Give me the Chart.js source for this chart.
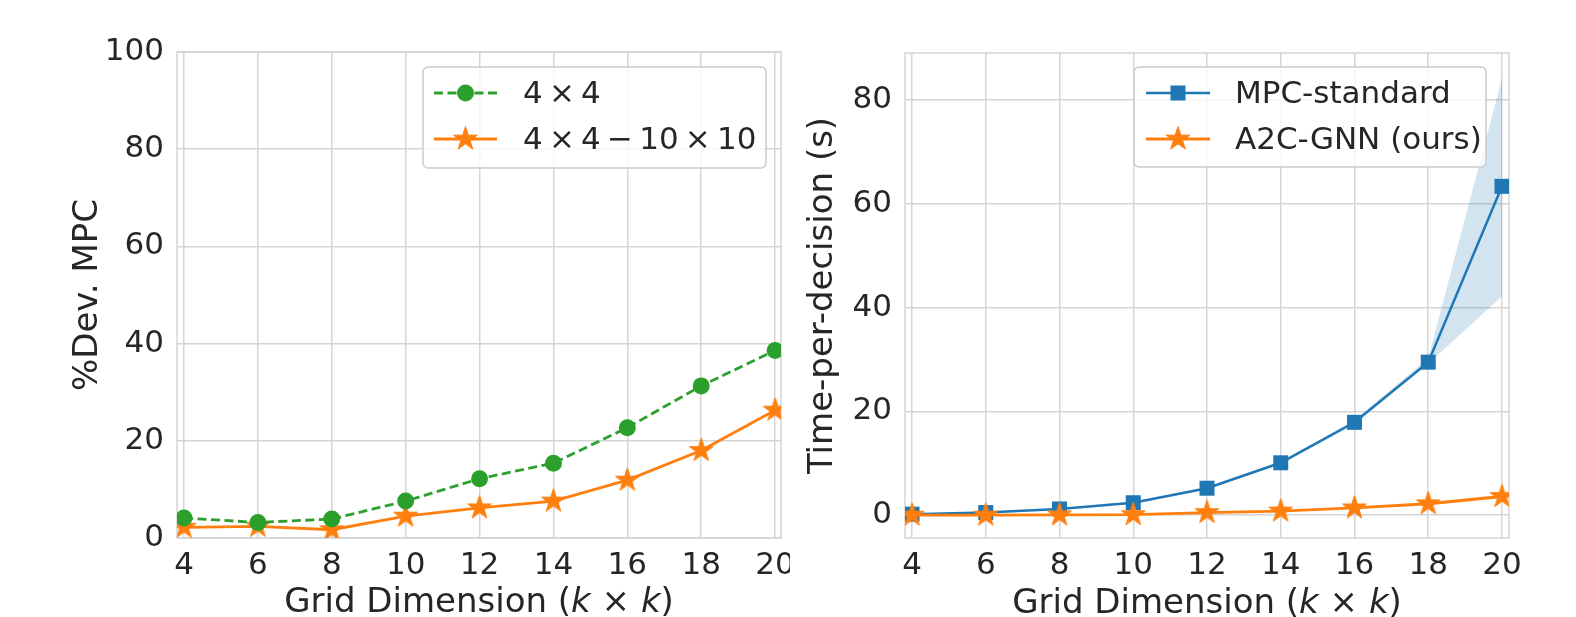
<!DOCTYPE html>
<html><head><meta charset="utf-8">
<script src="https://cdn.jsdelivr.net/npm/chart.js@4/dist/chart.umd.min.js"></script>
<style>
html,body{margin:0;padding:0;background:#fff;width:1576px;height:617px;overflow:hidden}
#c1{position:absolute;left:0;top:0}
#c2{position:absolute;left:790px;top:0}
</style></head><body>
<canvas id="c1" width="790" height="617"></canvas>
<canvas id="c2" width="786" height="617"></canvas>
<script>
// ---------- data ----------
const gridDims = [4, 6, 8, 10, 12, 14, 16, 18, 20];
const xTickValues = [4, 6, 8, 10, 12, 14, 16, 18, 20];
const leftYTicks = [0, 20, 40, 60, 80, 100];
const rightYTicks = [0, 20, 40, 60, 80];

const dev4x4 = [4.1, 3.2, 3.9, 7.6, 12.2, 15.4, 22.7, 31.3, 38.6];
const dev4x4to10 = [2.2, 2.4, 1.7, 4.5, 6.2, 7.6, 11.9, 18.0, 26.3];

const mpcTime = [0.2, 0.5, 1.2, 2.4, 5.2, 10.1, 17.9, 29.5, 63.4];
const mpcTimeLow = [0.1, 0.4, 1.0, 2.2, 5.0, 9.8, 17.5, 29.2, 42.2];
const mpcTimeHigh = [0.3, 0.6, 1.4, 2.6, 5.4, 10.4, 18.3, 30.3, 84.2];

const a2cTime = [0.0, 0.0, 0.05, 0.1, 0.5, 0.8, 1.4, 2.2, 3.6];
const a2cTimeLow = [0.0, 0.0, 0.0, 0.0, 0.3, 0.6, 1.2, 1.9, 3.2];
const a2cTimeHigh = [0.1, 0.1, 0.15, 0.2, 0.7, 1.0, 1.6, 2.5, 4.0];

const leftLegendLabels = ['4\u2009×\u20094', '4\u2009×\u20094\u2009−\u200910\u2009×\u200910'];
const rightLegendLabels = ['MPC-standard', 'A2C-GNN (ours)'];
const leftYTitle = '%Dev. MPC';
const rightYTitle = 'Time-per-decision (s)';
const xTitleParts = [['Grid Dimension (', false], ['k', true], [' × ', false], ['k', true], [')', false]];

// ---------- style ----------
const GREEN = '#2ca02c', ORANGE = '#ff7f0e', BLUE = '#1f77b4';
const TXT = '#262626', GRID = '#d5d5d5';
const FONT = 'DejaVu Sans';

function makeStar(color, R) {
  const s = Math.ceil(R * 2 + 4);
  const c = document.createElement('canvas');
  c.width = s; c.height = s;
  const g = c.getContext('2d');
  drawStar(g, s / 2, s / 2, R, color);
  return c;
}
function drawStar(g, cx, cy, R, color) {
  const r = R * 0.382;
  g.beginPath();
  for (let i = 0; i < 10; i++) {
    const rad = i % 2 === 0 ? R : r;
    const a = -Math.PI / 2 + i * Math.PI / 5;
    const px = cx + rad * Math.cos(a), py = cy + rad * Math.sin(a);
    if (i === 0) g.moveTo(px, py); else g.lineTo(px, py);
  }
  g.closePath();
  g.fillStyle = color; g.fill();
  g.strokeStyle = color; g.lineWidth = 1; g.stroke();
}
const starImg = makeStar(ORANGE, 12.5);

const pts = (ys) => gridDims.map((x, i) => ({ x: x, y: ys[i] }));

const decoPlugin = {
  id: 'deco',
  beforeDatasetsDraw(chart) {
    const { ctx, chartArea: a } = chart;
    ctx.save();
    ctx.strokeStyle = GRID; ctx.lineWidth = 1.5;
    ctx.strokeRect(a.left, a.top, a.right - a.left, a.bottom - a.top);
    ctx.restore();
  },
  afterDraw(chart) {
    const o = chart.options.plugins.deco;
    const { ctx, chartArea: a } = chart;
    ctx.save();
    ctx.fillStyle = TXT;
    // x title with italic k
    const fs = o.titleSize;
    let total = 0;
    const widths = xTitleParts.map(([t, it]) => {
      ctx.font = (it ? 'italic ' : '') + fs + 'px "' + FONT + '"';
      const w = ctx.measureText(t).width; total += w; return w;
    });
    let x = (a.left + a.right) / 2 - total / 2;
    ctx.textBaseline = 'middle'; ctx.textAlign = 'left';
    xTitleParts.forEach(([t, it], i) => {
      ctx.font = (it ? 'italic ' : '') + fs + 'px "' + FONT + '"';
      ctx.fillText(t, x, o.xTitleY);
      x += widths[i];
    });
    // y title
    ctx.save();
    ctx.translate(o.yTitleX, (a.top + a.bottom) / 2);
    ctx.rotate(-Math.PI / 2);
    ctx.textAlign = 'center'; ctx.textBaseline = 'middle';
    ctx.font = fs + 'px "' + FONT + '"';
    ctx.fillText(o.yTitle, 0, 0);
    ctx.restore();
    // legend
    const L = o.legend;
    ctx.beginPath();
    ctx.roundRect(L.box[0], L.box[1], L.box[2], L.box[3], 5);
    ctx.fillStyle = 'rgba(255,255,255,0.8)'; ctx.fill();
    ctx.strokeStyle = '#cccccc'; ctx.lineWidth = 1.5; ctx.stroke();
    L.items.forEach((it, i) => {
      const y = L.rows[i];
      ctx.save();
      ctx.strokeStyle = it.color; ctx.lineWidth = it.lw;
      ctx.setLineDash(it.dash || []);
      ctx.beginPath(); ctx.moveTo(L.lineX[0], y); ctx.lineTo(L.lineX[1], y); ctx.stroke();
      ctx.restore();
      const mx = (L.lineX[0] + L.lineX[1]) / 2;
      ctx.fillStyle = it.color;
      if (it.marker === 'circle') {
        ctx.beginPath(); ctx.arc(mx, y, 8.5, 0, Math.PI * 2); ctx.fill();
      } else if (it.marker === 'rect') {
        ctx.fillRect(mx - 7.5, y - 7.5, 15, 15);
      } else if (it.marker === 'star') {
        drawStar(ctx, mx, y, 12.5, it.color);
      }
      ctx.fillStyle = TXT;
      ctx.font = o.legendSize + 'px "' + FONT + '"';
      ctx.textAlign = 'left'; ctx.textBaseline = 'middle';
      ctx.fillText(it.label, L.textX, y + 2);
    });
    ctx.restore();
  }
};

function baseScales(xMin, xMax, yMin, yMax, yTicks, yWidth) {
  return {
    x: {
      type: 'linear', min: xMin, max: xMax,
      afterBuildTicks: (s) => { s.ticks = xTickValues.map(v => ({ value: v })); },
      afterFit: (s) => { s.height = 79; s.paddingLeft = 0; s.paddingRight = 0; },
      grid: { color: GRID, lineWidth: 1.5, drawTicks: false },
      border: { display: false },
      ticks: { color: TXT, font: { family: FONT, size: 31 }, padding: 9, maxRotation: 0, autoSkip: false,
        callback: (v) => String(v) }
    },
    y: {
      type: 'linear', min: yMin, max: yMax,
      afterBuildTicks: (s) => { s.ticks = yTicks.map(v => ({ value: v })); },
      afterFit: (s) => { s.width = yWidth; s.paddingTop = 0; s.paddingBottom = 0; },
      grid: { color: GRID, lineWidth: 1.5, drawTicks: false },
      border: { display: false },
      ticks: { color: TXT, font: { family: FONT, size: 31 }, padding: 13, autoSkip: false,
        callback: (v) => String(v) }
    }
  };
}

new Chart(document.getElementById('c1'), {
  type: 'line',
  data: {
    datasets: [
      { label: leftLegendLabels[0], data: pts(dev4x4), borderColor: GREEN, backgroundColor: GREEN,
        borderWidth: 2.8, borderDash: [9, 4.5], pointStyle: 'circle', pointRadius: 8.5,
        pointBorderWidth: 0, fill: false, tension: 0 },
      { label: leftLegendLabels[1], data: pts(dev4x4to10), borderColor: ORANGE, backgroundColor: ORANGE,
        borderWidth: 2.8, pointStyle: starImg, pointRadius: 12, fill: false, tension: 0 }
    ]
  },
  options: {
    responsive: false, animation: false,
    layout: { autoPadding: false, padding: { top: 52, right: 9, left: 0, bottom: 0 } },
    scales: baseScales(3.81, 20.16, 0, 100, leftYTicks, 177),
    plugins: {
      legend: { display: false }, tooltip: { enabled: false },
      deco: {
        titleSize: 34, legendSize: 31, xTitleY: 603, yTitle: leftYTitle, yTitleX: 88,
        legend: {
          box: [423, 67, 343, 101], rows: [93, 139], lineX: [434, 497], textX: 523,
          items: [
            { label: leftLegendLabels[0], color: GREEN, lw: 2.8, dash: [9, 4.5], marker: 'circle' },
            { label: leftLegendLabels[1], color: ORANGE, lw: 2.8, marker: 'star' }
          ]
        }
      }
    }
  },
  plugins: [decoPlugin]
});

new Chart(document.getElementById('c2'), {
  type: 'line',
  data: {
    datasets: [
      { label: 'mpcHigh', data: pts(mpcTimeHigh), borderWidth: 0, pointRadius: 0,
        backgroundColor: 'rgba(31,119,180,0.2)', fill: '+1', order: 10, tension: 0 },
      { label: 'mpcLow', data: pts(mpcTimeLow), borderWidth: 0, pointRadius: 0,
        backgroundColor: 'rgba(31,119,180,0.2)', fill: false, order: 10, tension: 0 },
      { label: 'a2cHigh', data: pts(a2cTimeHigh), borderWidth: 0, pointRadius: 0,
        backgroundColor: 'rgba(255,127,14,0.2)', fill: '+1', order: 10, tension: 0 },
      { label: 'a2cLow', data: pts(a2cTimeLow), borderWidth: 0, pointRadius: 0,
        backgroundColor: 'rgba(255,127,14,0.2)', fill: false, order: 10, tension: 0 },
      { label: rightLegendLabels[0], data: pts(mpcTime), borderColor: BLUE, backgroundColor: BLUE,
        borderWidth: 2.5, pointStyle: 'rect', pointRadius: 10.6, pointBorderWidth: 0,
        fill: false, order: 2, tension: 0 },
      { label: rightLegendLabels[1], data: pts(a2cTime), borderColor: ORANGE, backgroundColor: ORANGE,
        borderWidth: 2.8, pointStyle: starImg, pointRadius: 12, fill: false, order: 1, tension: 0 }
    ]
  },
  options: {
    responsive: false, animation: false,
    layout: { autoPadding: false, padding: { top: 53, right: 67, left: 0, bottom: 0 } },
    scales: baseScales(3.81, 20.19, -4.4, 89.1, rightYTicks, 115),
    plugins: {
      legend: { display: false }, tooltip: { enabled: false }, filler: { propagate: false },
      deco: {
        titleSize: 34, legendSize: 31, xTitleY: 604, yTitle: rightYTitle, yTitleX: 33,
        legend: {
          box: [344, 67, 352, 100], rows: [93, 139], lineX: [356, 420], textX: 445,
          items: [
            { label: rightLegendLabels[0], color: BLUE, lw: 2.5, marker: 'rect' },
            { label: rightLegendLabels[1], color: ORANGE, lw: 2.8, marker: 'star' }
          ]
        }
      }
    }
  },
  plugins: [decoPlugin]
});
</script>
</body></html>
